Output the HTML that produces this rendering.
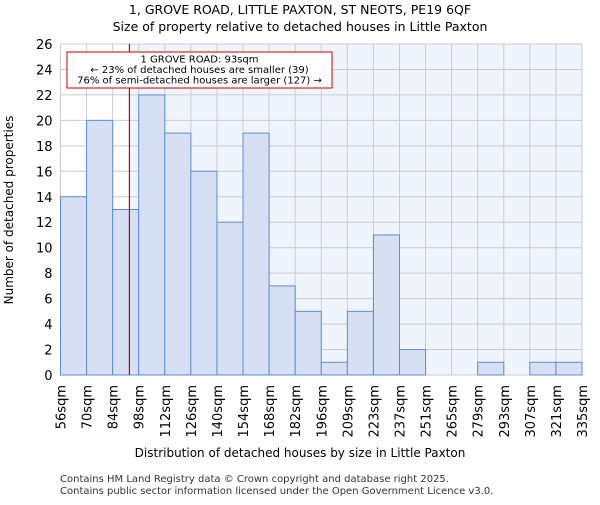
<!DOCTYPE html>
<html><head><meta charset="utf-8"><style>body{margin:0;background:#fff}svg{font-family:"DejaVu Sans","Liberation Sans",sans-serif}</style></head>
<body>
<svg id="c" width="600" height="500">
<text x="300" y="14" text-anchor="middle" font-size="12.5">1, GROVE ROAD, LITTLE PAXTON, ST NEOTS, PE19 6QF</text>
<text x="300" y="31" text-anchor="middle" font-size="12.5">Size of property relative to detached houses in Little Paxton</text>
<g id="plot"></g>
<text x="300" y="457" text-anchor="middle" font-size="12">Distribution of detached houses by size in Little Paxton</text>
<text transform="translate(13,210) rotate(-90)" text-anchor="middle" font-size="12">Number of detached properties</text>
<text x="60" y="482" font-size="10" fill="#333">Contains HM Land Registry data © Crown copyright and database right 2025.</text>
<text x="60" y="494" font-size="10" fill="#333">Contains public sector information licensed under the Open Government Licence v3.0.</text>
</svg>
<script>
const binLabels=["56sqm","70sqm","84sqm","98sqm","112sqm","126sqm","140sqm","154sqm","168sqm","182sqm","196sqm","209sqm","223sqm","237sqm","251sqm","265sqm","279sqm","293sqm","307sqm","321sqm","335sqm"];
const counts=[14,20,13,22,19,16,12,19,7,5,1,5,11,2,0,0,1,0,1,1];
const yTicks=[0,2,4,6,8,10,12,14,16,18,20,22,24,26];
const propertySize=93;
const binStart=56, binWidth=14;
const X0=60.5,X1=582,Y0=375,Y1=44,YMAX=26;
const NS="http://www.w3.org/2000/svg";
const g=document.getElementById('plot');
const xb=i=>X0+(X1-X0)*i/counts.length;
const xv=v=>X0+(X1-X0)*(v-binStart)/(binWidth*counts.length);
const y=v=>Y0-(Y0-Y1)*v/YMAX;
function mk(t,a){const e=document.createElementNS(NS,t);for(const k in a)e.setAttribute(k,a[k]);g.appendChild(e);return e;}
let e;
e=mk('rect',{x:X0,y:Y1,width:X1-X0,height:Y0-Y1,fill:'#fff'});


const rx=xv(propertySize);
e=mk('rect',{x:rx,y:Y1,width:X1-rx,height:Y0-Y1,fill:'#f0f4fc'});


yTicks.forEach(t=>{
 e=mk('line',{x1:X0,x2:X1,y1:y(t),y2:y(t),stroke:'#ccc','stroke-width':1});
 
 
 e=mk('text',{x:X0-8,y:y(t)+5,'text-anchor':'end','font-size':13});
 e.textContent=t;
 
 
});
binLabels.forEach((l,i)=>{
 e=mk('line',{x1:xb(i),x2:xb(i),y1:Y1,y2:Y0,stroke:'#ccc','stroke-width':1});
 
 
 e=mk('text',{transform:`translate(${xb(i)+5},385) rotate(-90)`,'text-anchor':'end','font-size':13});
 e.textContent=l;
 
 
});
counts.forEach((c,i)=>{
 if(c<=0)return;
 e=mk('rect',{x:xb(i),y:y(c),width:xb(i+1)-xb(i),height:Y0-y(c),fill:'#d6e0f2',stroke:'#5b8ed8','stroke-width':1});
 
 
});
e=mk('line',{x1:rx,x2:rx,y1:Y1,y2:Y0,stroke:'#c00','stroke-width':1.2});


e=mk('rect',{x:67,y:52,width:265,height:36,fill:'#fff',stroke:'#c00','stroke-width':1});


["1 GROVE ROAD: 93sqm","← 23% of detached houses are smaller (39)","76% of semi-detached houses are larger (127) →"].forEach((t,i)=>{
 e=mk('text',{x:199.5,y:62.5+i*10.5,'text-anchor':'middle','font-size':10});
 e.textContent=t;
 
 
});
</script>
</body></html>
